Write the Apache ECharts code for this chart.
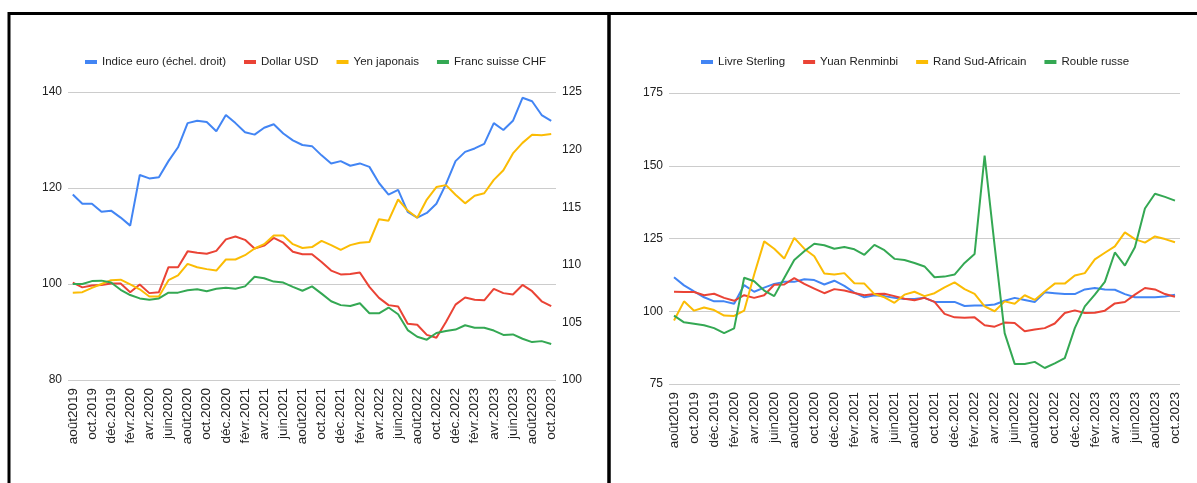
<!DOCTYPE html>
<html>
<head>
<meta charset="utf-8">
<script src="https://cdn.jsdelivr.net/npm/echarts@6/dist/echarts.min.js"></script>
<style>
html,body{margin:0;padding:0;background:#fff;}
#chart{width:1197px;height:483px;}
</style>
</head>
<body>
<div id="chart"></div>
<script>
const months = ['août2019','sept.2019','oct.2019','nov.2019','déc.2019',
  'janv.2020','févr.2020','mars2020','avr.2020','mai2020','juin2020','juil.2020','août2020','sept.2020','oct.2020','nov.2020','déc.2020',
  'janv.2021','févr.2021','mars2021','avr.2021','mai2021','juin2021','juil.2021','août2021','sept.2021','oct.2021','nov.2021','déc.2021',
  'janv.2022','févr.2022','mars2022','avr.2022','mai2022','juin2022','juil.2022','août2022','sept.2022','oct.2022','nov.2022','déc.2022',
  'janv.2023','févr.2023','mars2023','avr.2023','mai2023','juin2023','juil.2023','août2023','sept.2023','oct.2023'];

// Left chart
const leftNames = ['Indice euro (échel. droit)','Dollar USD','Yen japonais','Franc suisse CHF'];
const euroIndex = [116.1,115.3,115.3,114.6,114.7,114.1,113.4,117.8,117.5,117.6,119.0,120.2,122.3,122.5,122.4,121.6,123.0,
  122.3,121.5,121.3,121.9,122.2,121.4,120.8,120.4,120.3,119.5,118.8,119.0,118.6,118.8,118.5,117.1,116.1,
  116.5,114.6,114.1,114.5,115.3,117.0,119.0,119.8,120.1,120.5,122.3,121.7,122.5,124.5,124.2,123.0,122.5];
const dollarUSD = [100.3,99.3,99.7,99.8,100.1,100.1,98.3,99.9,98.1,98.3,103.5,103.5,106.8,106.5,106.3,106.9,109.3,
  109.9,109.2,107.4,108.0,109.6,108.6,106.7,106.2,106.2,104.6,102.8,102.0,102.1,102.4,99.4,97.1,95.6,
  95.3,91.7,91.5,89.4,88.8,92.1,95.7,97.2,96.7,96.6,99.0,98.1,97.8,99.8,98.5,96.4,95.4];
const yenJaponais = [98.2,98.3,99.2,100.0,100.8,100.9,99.9,98.9,97.4,97.4,100.8,101.8,104.2,103.5,103.1,102.8,105.1,
  105.1,106.0,107.4,108.3,110.1,110.1,108.3,107.5,107.7,109.0,108.1,107.1,108.1,108.6,108.75,113.5,113.2,
  117.6,115.3,113.8,117.6,120.2,120.6,118.6,116.8,118.4,118.9,121.7,123.7,127.2,129.4,131.1,131.0,131.25];
const francCHF = [100.0,100.0,100.6,100.7,100.3,98.8,97.7,97.0,96.7,97.0,98.2,98.2,98.7,98.9,98.5,99.0,99.2,
  99.0,99.5,101.5,101.2,100.5,100.3,99.4,98.6,99.5,98.0,96.4,95.6,95.4,96.0,93.9,93.9,95.1,
  93.7,90.4,89.0,88.4,89.8,90.2,90.5,91.4,90.9,90.9,90.3,89.4,89.5,88.6,87.9,88.1,87.5];
const leftTicks = {min:80, max:140, interval:20};
const rightTicks = {min:100, max:125, interval:5};

// Right chart
const rightNames = ['Livre Sterling','Yuan Renminbi','Rand Sud-Africain','Rouble russe'];
const livreSterling = [111.7,108.9,106.8,104.8,103.4,103.4,102.6,109.0,106.7,108.1,109.4,110.1,110.1,111.0,110.7,109.2,110.5,
  108.7,106.4,104.8,105.5,105.2,104.6,104.2,104.2,104.6,103.2,103.2,103.2,101.8,102.0,102.0,102.3,
  103.6,104.6,103.9,103.2,106.5,106.2,105.9,105.9,107.5,108.0,107.5,107.4,105.9,104.8,104.8,104.8,105.1,105.7];
const yuanRenminbi = [106.7,106.6,106.6,105.5,106.0,104.6,103.6,105.5,104.6,105.5,109.1,109.2,111.4,109.4,107.8,106.2,107.6,
  107.1,106.3,105.5,105.9,106.0,105.2,104.3,103.8,104.6,103.2,99.1,97.9,97.8,97.9,95.2,94.7,
  96.1,96.0,93.1,93.7,94.2,95.8,99.4,100.3,99.4,99.5,100.2,102.7,103.2,105.7,108.0,107.5,105.9,105.0];
const randSudAfricain = [96.8,103.4,100.2,101.3,100.4,98.5,98.4,100.2,112.6,124.0,121.5,118.1,125.2,121.5,118.9,113.0,112.6,
  113.1,109.6,109.5,105.9,104.8,102.9,105.7,106.7,105.2,106.2,108.2,109.9,107.6,106.0,101.7,100.0,
  103.4,102.6,105.5,103.9,106.8,109.5,109.5,112.3,113.1,117.8,120.1,122.3,127.1,124.8,123.6,125.7,124.8,123.7];
const roubleRusse = [98.5,96.2,95.7,95.2,94.2,92.5,94.1,111.5,110.3,107.1,105.2,111.4,117.6,120.6,123.2,122.7,121.5,
  122.1,121.3,119.4,122.8,121.0,118.0,117.6,116.6,115.4,111.7,111.9,112.6,116.6,119.7,153.5,122.5,
  92.5,81.9,81.9,82.6,80.5,82.1,83.9,94.2,101.7,105.7,110.1,120.2,115.7,122.0,135.3,140.4,139.3,138.0];
const rightChartTicks = {min:75, max:175, interval:25};

const colors = ['#4285F4','#EA4335','#FBBC04','#34A853'];
const FONT = "'Liberation Sans',Arial,sans-serif";
const TXT = '#222222';

function xAxisFor(g){
  return {gridIndex:g, type:'category', data:months, boundaryGap:true,
    axisLine:{show:false}, axisTick:{show:false}, splitLine:{show:false},
    axisLabel:{rotate:90, interval:1, fontSize:13.5, color:TXT, margin:8, fontFamily:FONT}};
}
function yAxisFor(g, t, pos, split){
  return {gridIndex:g, type:'value', position:pos, min:t.min, max:t.max, interval:t.interval,
    axisLine:{show:false}, axisTick:{show:false},
    splitLine:{show:split, lineStyle:{color:'#cccccc', width:1}},
    axisLabel:{fontSize:12, color:TXT, margin:6, fontFamily:FONT}};
}
function line(name, data, xi, yi, color){
  return {name:name, type:'line', data:data, xAxisIndex:xi, yAxisIndex:yi,
    showSymbol:false, symbol:'none', lineStyle:{width:2, color:color}, itemStyle:{color:color},
    emphasis:{disabled:true}};
}
const legendBase = {top:51, itemWidth:12, itemHeight:4, itemGap:18, icon:'rect',
  textStyle:{fontSize:11.5, color:TXT, fontFamily:FONT}, selectedMode:false};

const chart = echarts.init(document.getElementById('chart'), null, {renderer:'canvas'});
chart.setOption({
  animation:false,
  textStyle:{fontFamily:FONT},
  legend:[
    Object.assign({}, legendBase, {data:leftNames, left:80}),
    Object.assign({}, legendBase, {data:rightNames, left:696})
  ],
  grid:[
    {left:68, top:92, width:488, height:288},
    {left:669, top:93, width:511, height:291}
  ],
  xAxis:[xAxisFor(0), xAxisFor(1)],
  yAxis:[
    yAxisFor(0, leftTicks, 'left', true),
    yAxisFor(0, rightTicks, 'right', false),
    yAxisFor(1, rightChartTicks, 'left', true)
  ],
  series:[
    line(leftNames[0], euroIndex, 0, 1, colors[0]),
    line(leftNames[1], dollarUSD, 0, 0, colors[1]),
    line(leftNames[2], yenJaponais, 0, 0, colors[2]),
    line(leftNames[3], francCHF, 0, 0, colors[3]),
    line(rightNames[0], livreSterling, 1, 2, colors[0]),
    line(rightNames[1], yuanRenminbi, 1, 2, colors[1]),
    line(rightNames[2], randSudAfricain, 1, 2, colors[2]),
    line(rightNames[3], roubleRusse, 1, 2, colors[3])
  ],
  graphic:[
    {type:'rect', shape:{x:9, y:13.5, width:600, height:520}, style:{fill:null, stroke:'#000', lineWidth:3}, silent:true},
    {type:'rect', shape:{x:609, y:13.5, width:620, height:520}, style:{fill:null, stroke:'#000', lineWidth:3}, silent:true}
  ]
});
</script>
</body>
</html>
